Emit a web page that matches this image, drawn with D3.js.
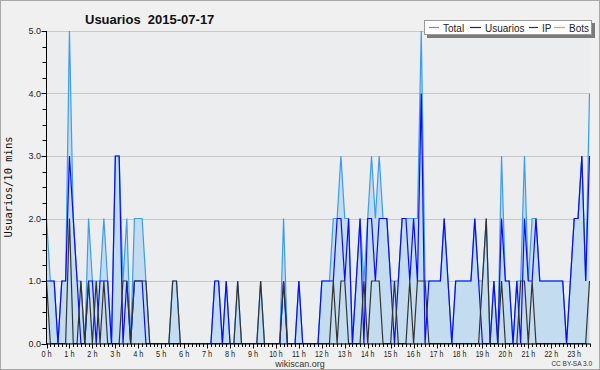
<!DOCTYPE html>
<html>
<head>
<meta charset="utf-8">
<script src="https://cdn.jsdelivr.net/npm/d3@7"></script>
<style>
html,body{margin:0;padding:0;background:#f0f0f0;}
svg{display:block;}
</style>
</head>
<body>
<svg id="chart" width="600" height="370"></svg>
<script>
const hourLabels = ["0 h","1 h","2 h","3 h","4 h","5 h","6 h","7 h","8 h","9 h","10 h","11 h","12 h","13 h","14 h","15 h","16 h","17 h","18 h","19 h","20 h","21 h","22 h","23 h"];
const yTicks = [0,1,2,3,4,5];
const totalValues = [
2,1,1,0,1,1,5,2,1,1, 0,2,1,1,1,2,1,0,3,3,
1,2,0,2,2,2,1,0,0,0, 0,0,0,1,1,0,0,0,0,0,
0,0,0,0,1,1,0,1,0,0, 1,0,0,0,0,0,1,0,0,0,
0,0,2,0,0,0,1,0,0,0, 0,0,1,1,1,2,2,3,2,2,
0,1,2,1,2,3,2,3,2,2, 1,1,1,2,2,2,2,2,5,1,
1,1,1,1,2,1,0,1,1,1, 1,1,2,1,1,2,0,1,0,3,
1,1,0,1,1,3,1,2,2,1, 1,1,1,1,1,1,0,1,2,2,
3,1,4];
const usuariosValues = [
1,1,1,0,1,1,3,2,1,0, 0,1,1,0,1,1,1,0,3,3,
0,1,0,1,1,1,0,0,0,0, 0,0,0,0,0,0,0,0,0,0,
0,0,0,0,1,1,0,1,0,0, 0,0,0,0,0,0,0,0,0,0,
0,0,1,0,0,0,1,0,0,0, 0,0,1,1,1,1,2,2,1,2,
0,1,2,0,2,2,1,2,2,2, 1,0,1,2,2,1,2,1,4,0,
1,1,1,1,2,1,0,1,1,1, 1,1,2,1,0,0,0,1,0,2,
1,1,0,1,0,2,1,1,2,1, 1,1,1,1,1,1,0,1,2,2,
3,1,3];
const ipValues = [
1,0,0,0,0,0,2,0,0,1, 0,1,0,1,0,1,0,0,0,0,
1,1,0,1,1,1,1,0,0,0, 0,0,0,1,1,0,0,0,0,0,
0,0,0,0,0,0,0,0,0,0, 1,0,0,0,0,0,1,0,0,0,
0,0,1,0,0,0,0,0,0,0, 0,0,0,0,0,1,0,1,1,0,
0,0,0,1,0,1,1,1,0,0, 0,1,0,0,0,1,0,1,1,1,
0,0,0,0,0,0,0,0,0,0, 0,0,0,0,1,2,0,0,0,1,
0,0,0,0,1,1,0,1,0,0, 0,0,0,0,0,0,0,0,0,0,
0,0,1];
const botsValues = [
0,0,0,0,0,0,0,0,0,0, 0,0,0,0,0,0,0,0,0,0,
0,0,0,0,0,0,0,0,0,0, 0,0,0,0,0,0,0,0,0,0,
0,0,0,0,0,0,0,0,0,0, 0,0,0,0,0,0,0,0,0,0,
0,0,0,0,0,0,0,0,0,0, 0,0,0,0,0,0,0,0,0,0,
0,0,0,0,0,0,0,0,0,0, 0,0,0,0,0,0,0,0,0,0,
0,0,0,0,0,0,0,0,0,0, 0,0,0,0,0,0,0,0,0,0,
0,0,0,0,0,0,0,0,0,0, 0,0,0,0,0,0,0,0,0,0,
0,0,0];
const seriesNames = ["Total","Usuarios","IP","Bots"];
const seriesColors = ["#3b9cf0","#0a0aff","#333333","#ffa020"];

(function(){
const svg = d3.select("#chart");
const W = 600, H = 370;
const pL = 46.5, pR = 589.5, pT = 31, pB = 343.5;

svg.append("rect").attr("x",0.5).attr("y",0.5).attr("width",W-1).attr("height",H-1)
  .attr("fill","#f0f0f0").attr("stroke","#a8a8a8");

const n = totalValues.length;
const x = d3.scaleLinear().domain([0, n-1]).range([pL, pR]);
const y = d3.scaleLinear().domain([0,5]).range([pB, pT]);

svg.append("rect").attr("x",pL).attr("y",pT).attr("width",pR-pL).attr("height",pB-pT)
  .attr("fill","#ecedef");

svg.append("g").selectAll("line").data(yTicks.filter(d=>d>0)).join("line")
  .attr("x1",pL).attr("x2",pR).attr("y1",d=>Math.round(y(d))+0.5).attr("y2",d=>Math.round(y(d))+0.5)
  .attr("stroke","#c8c8c8").attr("stroke-width",1);

const idx = d3.range(n);
const area = d3.area().x(i=>x(i)).y0(y(0)).y1(i=>y(totalValues[i]));
svg.append("path").datum(idx).attr("d",area).attr("fill","#c4dcf0");

function drawLine(vals, color){
  const line = d3.line().x(i=>x(i)).y(i=>y(vals[i]));
  svg.append("path").datum(idx).attr("d",line).attr("fill","none")
    .attr("stroke",color).attr("stroke-width",1.2).attr("stroke-linejoin","miter");
}
drawLine(botsValues, seriesColors[3]);
drawLine(totalValues, seriesColors[0]);
drawLine(usuariosValues, seriesColors[1]);
drawLine(ipValues, seriesColors[2]);

const xAxisG = svg.append("g");
xAxisG.append("line").attr("x1",pL-0.5).attr("x2",pR+0.5).attr("y1",pB+0.5).attr("y2",pB+0.5).attr("stroke","#000");
xAxisG.selectAll("line.t").data(idx).join("line").attr("class","t")
  .attr("x1",i=>Math.round(x(i))+0.5).attr("x2",i=>Math.round(x(i))+0.5)
  .attr("y1",pB).attr("y2",i=> i%6===0 ? pB+5 : pB+3.5)
  .attr("stroke","#000");
xAxisG.selectAll("text").data(hourLabels).join("text")
  .attr("x",(d,k)=>x(k*6)).attr("y",pB+13)
  .attr("text-anchor","middle").attr("font-family","Liberation Sans, Arial, sans-serif")
  .attr("font-size","9.5px").attr("fill","#222")
  .attr("textLength",d=>d.length*3.4).attr("lengthAdjust","spacingAndGlyphs")
  .text(d=>d);

const yAxisG = svg.append("g");
yAxisG.append("line").attr("x1",pL).attr("x2",pL).attr("y1",pT).attr("y2",pB+1).attr("stroke","#000");
yAxisG.selectAll("line.t").data(d3.range(0,5.001,0.25)).join("line").attr("class","t")
  .attr("x1",d=> (Math.abs(d-Math.round(d))<1e-6) ? pL-5 : pL-4).attr("x2",pL)
  .attr("y1",d=>Math.round(y(d))+0.5).attr("y2",d=>Math.round(y(d))+0.5).attr("stroke","#000");
yAxisG.selectAll("text").data(yTicks).join("text")
  .attr("x",pL-5.5).attr("y",d=>y(d)+3)
  .attr("text-anchor","end").attr("font-family","Liberation Sans, Arial, sans-serif")
  .attr("font-size","9px").attr("fill","#222").text(d=>d.toFixed(1));

svg.append("text").attr("transform","translate(12,187) rotate(-90)")
  .attr("text-anchor","middle").attr("font-family","DejaVu Sans Mono, monospace")
  .attr("font-size","10.5px").attr("fill","#111").text("Usuarios/10 mins");

svg.append("text").attr("x",85).attr("y",23.5).attr("font-family","Liberation Sans, Arial, sans-serif")
  .attr("font-weight","bold").attr("font-size","13px").attr("fill","#111")
  .style("white-space","pre").text("Usuarios  2015-07-17");

const lg = svg.append("g");
lg.append("rect").attr("x",427).attr("y",23).attr("width",168).attr("height",15).attr("fill","#7a7a7a");
lg.append("rect").attr("x",424.5).attr("y",20.5).attr("width",167).attr("height",14).attr("fill","#fff").attr("stroke","#9a9a9a");
const legX = [429, 470, 529, 554];
const legW = [10, 11, 9, 11];
seriesNames.forEach((name,k)=>{
  lg.append("line").attr("x1",legX[k]).attr("x2",legX[k]+legW[k]).attr("y1",27.5).attr("y2",27.5)
    .attr("stroke",seriesColors[k]).attr("stroke-width",1.2);
  lg.append("text").attr("x",legX[k]+legW[k]+4).attr("y",31.5)
    .attr("font-family","Liberation Sans, Arial, sans-serif").attr("font-size","10px").attr("fill","#222").text(name);
});

svg.append("text").attr("x",300).attr("y",366.5).attr("text-anchor","middle")
  .attr("font-family","Liberation Sans, Arial, sans-serif").attr("font-size","9px").attr("fill","#333").text("wikiscan.org");
svg.append("text").attr("x",592).attr("y",366).attr("text-anchor","end")
  .attr("font-family","Liberation Sans, Arial, sans-serif").attr("font-size","6.5px").attr("fill","#333").text("CC BY-SA 3.0");
})();
</script>
</body>
</html>
